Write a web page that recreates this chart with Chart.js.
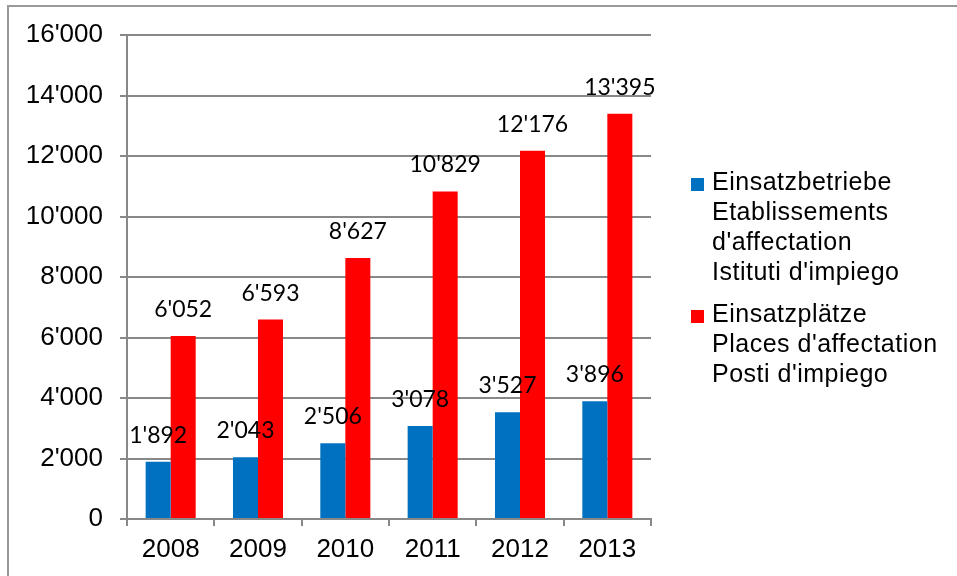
<!DOCTYPE html>
<html>
<head>
<meta charset="utf-8">
<script src="https://cdn.jsdelivr.net/npm/chart.js@4/dist/chart.umd.min.js"></script>
<style>
  html, body { margin: 0; padding: 0; background: #fff; }
  #wrap { position: relative; width: 957px; height: 576px; overflow: hidden; }
  #frame { position: absolute; left: 7px; top: 5px; width: 1000px; height: 640px; border: 2px solid #999; box-sizing: border-box; }
  #chart { position: absolute; left: 0; top: 0; }
  #legend { position: absolute; left: 691px; top: 166px; font: 25px "Liberation Sans", Arial, sans-serif; letter-spacing: 0.5px; line-height: 30px; color: #000; }
  .item { position: relative; padding-left: 21px; margin-bottom: 12px; }
  .swatch { position: absolute; left: 0; top: 12px; width: 13px; height: 13px; }
</style>
</head>
<body>
<div id="wrap">
  <div id="frame"></div>
  <canvas id="chart" width="957" height="576"></canvas>
  <div id="legend"></div>
</div>
<script>
const years = ['2008', '2009', '2010', '2011', '2012', '2013'];
const betriebe = [1892, 2043, 2506, 3078, 3527, 3896];
const plaetze = [6052, 6593, 8627, 10829, 12176, 13395];
const betriebeLabel = ['Einsatzbetriebe', 'Etablissements', "d'affectation", "Istituti d'impiego"];
const plaetzeLabel = ['Einsatzplätze', "Places d'affectation", "Posti d'impiego"];
const colors = ['#0070C0', '#FF0000'];

// 12000 -> 12'000
const fmt = v => String(v).replace(/\B(?=(\d{3})+(?!\d))/g, "'");

const valueLabels = {
  id: 'valueLabels',
  afterDatasetsDraw(chart) {
    const ctx = chart.ctx;
    ctx.save();
    ctx.font = '23px Lato, "Open Sans", sans-serif';
    ctx.fillStyle = '#000';
    ctx.textAlign = 'center';
    ctx.textBaseline = 'alphabetic';
    chart.data.datasets.forEach((ds, i) => {
      chart.getDatasetMeta(i).data.forEach((bar, j) => {
        ctx.fillText(fmt(ds.data[j]), bar.x, bar.y - 19);
      });
    });
    ctx.restore();
  }
};

const chart = new Chart(document.getElementById('chart'), {
  type: 'bar',
  data: {
    labels: years,
    datasets: [
      { label: betriebeLabel.join(' '), legendLines: betriebeLabel, data: betriebe, backgroundColor: colors[0] },
      { label: plaetzeLabel.join(' '), legendLines: plaetzeLabel, data: plaetze, backgroundColor: colors[1] }
    ]
  },
  options: {
    responsive: false,
    animation: false,
    categoryPercentage: 0.573,
    barPercentage: 1,
    layout: { padding: { left: 0, top: 35, right: 306, bottom: 0 } },
    plugins: {
      legend: { display: false },
      tooltip: { enabled: false }
    },
    scales: {
      x: {
        afterFit: s => { s.height = 57; },
        grid: { color: '#888', drawOnChartArea: false, tickLength: 7, lineWidth: 2 },
        border: { color: '#888', width: 2 },
        ticks: { color: '#000', font: { family: '"Liberation Sans", Arial', size: 26 }, padding: 8 }
      },
      y: {
        min: 0,
        max: 16000,
        afterFit: s => { s.width = 127; },
        grid: { color: '#888', tickLength: 7, lineWidth: 2 },
        border: { color: '#888', width: 2 },
        ticks: {
          stepSize: 2000,
          color: '#000',
          font: { family: '"Liberation Sans", Arial', size: 26 },
          padding: 17,
          callback: v => fmt(v)
        }
      }
    }
  },
  plugins: [valueLabels]
});

// legend lines are kept as separate rows, like the original
const legend = document.getElementById('legend');
chart.data.datasets.forEach(ds => {
  const item = document.createElement('div');
  item.className = 'item';
  const sw = document.createElement('span');
  sw.className = 'swatch';
  sw.style.background = ds.backgroundColor;
  item.appendChild(sw);
  ds.legendLines.forEach(line => {
    const l = document.createElement('div');
    l.textContent = line;
    item.appendChild(l);
  });
  legend.appendChild(item);
});
</script>
</body>
</html>
